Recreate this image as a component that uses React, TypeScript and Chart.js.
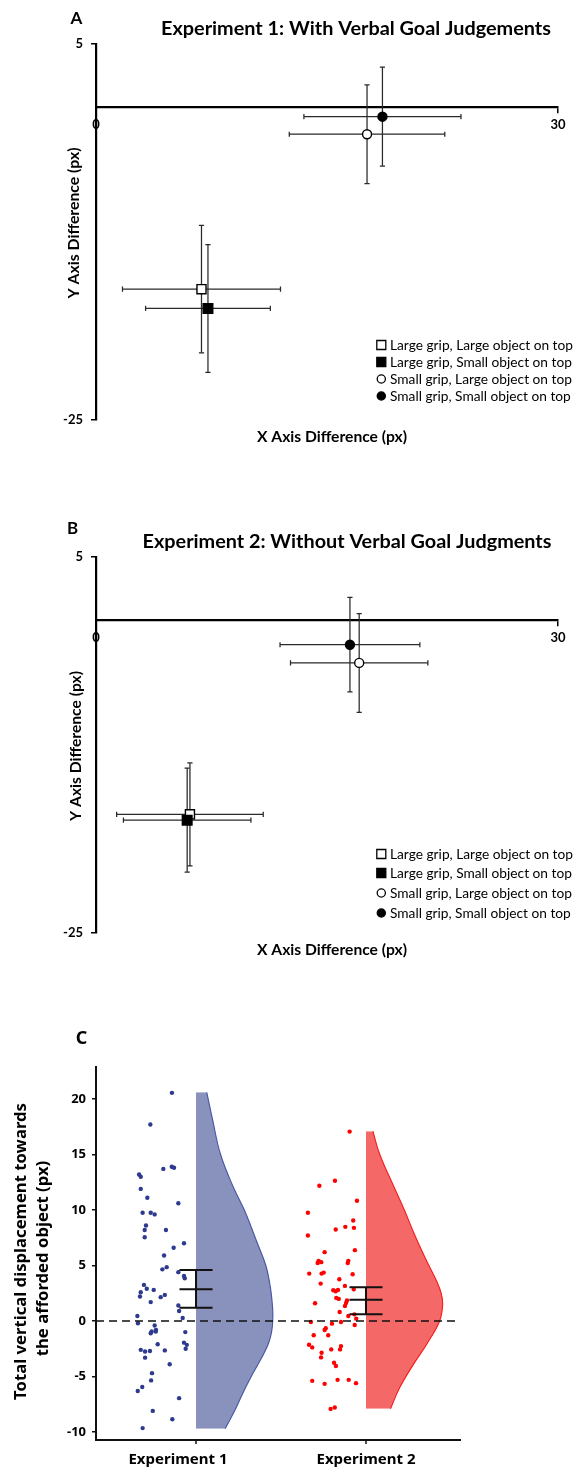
import React, { useEffect, useRef } from "react";
import { Chart, registerables } from "chart.js";
Chart.register(...registerables);

// ---------------- data: panels A and B ----------------
const CONDITIONS = [
  "Large grip, Large object on top",
  "Large grip, Small object on top",
  "Small grip, Large object on top",
  "Small grip, Small object on top",
];
const EXP1_X = [6.85, 7.27, 17.6, 18.6];
const EXP1_Y = [-14.56, -16.1, -2.2, -0.8];
const EXP1_XERR = [5.13, 4.05, 5.05, 5.1];
const EXP1_YERR = [5.08, 5.1, 3.94, 3.95];

const EXP2_X = [6.1, 5.92, 17.09, 16.49];
const EXP2_Y = [-15.53, -16.0, -3.45, -2.0];
const EXP2_XERR = [4.76, 4.14, 4.46, 4.54];
const EXP2_YERR = [4.11, 4.15, 3.94, 3.77];

const XY_X_TICKS = [0, 30];
const XY_Y_TICKS = [5, -25];
const X_TITLE = "X Axis Difference (px)";
const Y_TITLE = "Y Axis Difference (px)";
const TITLE_A = "Experiment 1: With Verbal Goal Judgements";
const TITLE_B = "Experiment 2: Without Verbal Goal Judgments";

// ---------------- data: panel C ----------------
const GROUPS = ["Experiment 1", "Experiment 2"];
const C_Y_TICKS = [20, 15, 10, 5, 0, -5, -10];
const C_Y_TITLE_1 = "Total vertical displacement towards";
const C_Y_TITLE_2 = "the afforded object (px)";

const EXP1_VALUES = [
  20.55, 17.7, 13.7, 13.9, 13.8, 13.2, 13.0, 11.9, 11.1, 10.6,
  9.75, 9.75, 9.6, 8.6, 8.2, 8.2, 7.55, 7.0, 6.6, 5.9,
  4.65, 4.85, 4.4, 4.05, 3.85, 3.25, 2.9, 2.6, 2.8, 2.2,
  2.35, 2.15, 1.7, 1.4, 0.9, 0.45, 0.27, -0.2, -0.4, -0.8,
  -0.95, -0.95, -1.1, -1.0, -2.1, -1.95, -2.15, -2.5, -2.6, -2.75,
  -2.7, -2.65, -3.3, -3.9, -4.7, -5.35, -5.95, -6.3, -6.95, -8.1,
  -8.85, -9.65,
];
const EXP1_JITTER = [
  -0.128, -0.243, -0.174, -0.129, -0.117, -0.303, -0.294, -0.294, -0.259, -0.094,
  -0.284, -0.241, -0.22, -0.266, -0.16, -0.273, -0.273, -0.064, -0.119, -0.17,
  -0.179, -0.156, -0.094, -0.064, -0.06, -0.277, -0.262, -0.294, -0.225, -0.298,
  -0.166, -0.188, -0.241, -0.094, -0.09, -0.312, -0.071, -0.309, -0.22, -0.213,
  -0.236, -0.214, -0.241, -0.057, -0.204, -0.064, -0.049, -0.055, -0.294, -0.271,
  -0.245, -0.166, -0.271, -0.14, -0.234, -0.239, -0.286, -0.31, -0.09, -0.23,
  -0.126, -0.284,
];
const EXP2_VALUES = [
  17.06, 12.18, 12.64, 10.83, 9.75, 9.05, 8.48, 8.39, 8.24, 7.7,
  6.2, 6.38, 5.42, 5.23, 5.3, 5.42, 5.23, 4.27, 4.27, 4.36,
  4.21, 3.76, 3.37, 3.16, 2.86, 2.77, 2.68, 2.8, 2.08, 1.99,
  1.84, 1.6, 1.62, 1.35, 0.81, 0.45, 0.6, 0.21, -0.09, -0.24,
  -0.09, -0.36, -0.66, -0.81, -1.29, -1.29, -2.14, -2.38, -2.26, -2.56,
  -2.56, -2.86, -3.28, -3.76, -4.06, -5.39, -5.66, -5.3, -5.3, -5.6,
  -7.92, -7.79,
];
const EXP2_JITTER = [
  -0.087, -0.248, -0.165, -0.048, -0.309, -0.068, -0.11, -0.064, -0.161, -0.309,
  -0.22, -0.059, -0.252, -0.257, -0.238, -0.094, -0.097, -0.302, -0.236, -0.225,
  -0.071, -0.142, -0.241, -0.112, -0.065, -0.174, -0.161, -0.149, -0.158, -0.145,
  -0.101, -0.271, -0.106, -0.112, -0.14, -0.094, -0.062, -0.052, -0.293, -0.181,
  -0.133, -0.06, -0.214, -0.22, -0.278, -0.201, -0.303, -0.286, -0.133, -0.138,
  -0.185, -0.236, -0.239, -0.17, -0.16, -0.286, -0.22, -0.151, -0.092, -0.053,
  -0.188, -0.166,
];
// half-violin density profiles (value, relative density)
const EXP1_DENS_Y = [20.6, 18, 15, 12, 10, 7, 5, 3, 1, 0, -1, -2, -3, -4, -5, -6.5, -8, -9.7];
const EXP1_DENS = [0.14, 0.22, 0.32, 0.49, 0.63, 0.8, 0.91, 0.97, 1.0, 1.0, 0.985, 0.945, 0.88, 0.8, 0.72, 0.61, 0.51, 0.38];
const EXP2_DENS_Y = [17.1, 15, 12, 10, 8, 6.6, 5, 3.6, 2.5, 1.5, 0, -2, -4, -6, -7.9];
const EXP2_DENS = [0.09, 0.18, 0.37, 0.5, 0.62, 0.71, 0.82, 0.92, 0.98, 1.0, 0.96, 0.8, 0.61, 0.44, 0.32];
const C_MEAN = [2.85, 1.92];
const C_CI_LOW = [1.2, 0.6];
const C_CI_HIGH = [4.6, 3.05];

// ---------------- layout / style ----------------
const PAGE_W = 577;
const FONT_AB = "Lato, 'Open Sans', sans-serif";
const FONT_C = "'Noto Sans', 'Open Sans', sans-serif";

type Marker = { shape: "rect" | "circle"; fill: string; radius: number };
const MARKERS: Marker[] = [
  { shape: "rect", fill: "#ffffff", radius: 6.4 },
  { shape: "rect", fill: "#000000", radius: 6.8 },
  { shape: "circle", fill: "#ffffff", radius: 4.5 },
  { shape: "circle", fill: "#000000", radius: 4.5 },
];

type Geo = {
  letter: [number, number];
  title: [number, number, number];
  yTitle: [number, number, number];
  xTitle: [number, number, number];
  legendRows: number[];
};
const GEO_A: Geo = {
  letter: [76.5, 19],
  title: [356, 28.5, 390],
  yTitle: [73.5, 223, 151],
  xTitle: [332, 437, 150],
  legendRows: [345, 362, 379, 396],
};
const GEO_B: Geo = {
  letter: [72.5, 16],
  title: [347, 28.7, 409],
  yTitle: [76, 233, 150],
  xTitle: [332, 437, 150],
  legendRows: [341, 360, 380, 400],
};

function fitFont(ctx: CanvasRenderingContext2D, text: string, weight: string, family: string, width: number) {
  ctx.font = `${weight} 100px ${family}`;
  const w = ctx.measureText(text).width || 1;
  const size = (100 * width) / w;
  return `${weight} ${size.toFixed(2)}px ${family}`;
}

function XYPanel(props: {
  letter: string;
  title: string;
  xs: number[];
  ys: number[];
  xe: number[];
  ye: number[];
  geo: Geo;
}) {
  const ref = useRef<HTMLCanvasElement>(null);
  useEffect(() => {
    const { letter, title, xs, ys, xe, ye, geo } = props;
    const CAP = 2.6;
    const decor = {
      id: "decor",
      beforeDatasetsDraw(chart: any) {
        const ctx: CanvasRenderingContext2D = chart.ctx;
        const sx = chart.scales.x;
        const sy = chart.scales.y;
        ctx.save();
        ctx.strokeStyle = "#2a2a2a";
        ctx.lineWidth = 1.25;
        for (let i = 0; i < xs.length; i++) {
          const px = sx.getPixelForValue(xs[i]);
          const py = sy.getPixelForValue(ys[i]);
          const xl = sx.getPixelForValue(xs[i] - xe[i]);
          const xr = sx.getPixelForValue(xs[i] + xe[i]);
          const yt = sy.getPixelForValue(ys[i] + ye[i]);
          const yb = sy.getPixelForValue(ys[i] - ye[i]);
          ctx.beginPath();
          ctx.moveTo(xl, py); ctx.lineTo(xr, py);
          ctx.moveTo(xl, py - CAP); ctx.lineTo(xl, py + CAP);
          ctx.moveTo(xr, py - CAP); ctx.lineTo(xr, py + CAP);
          ctx.moveTo(px, yt); ctx.lineTo(px, yb);
          ctx.moveTo(px - CAP, yt); ctx.lineTo(px + CAP, yt);
          ctx.moveTo(px - CAP, yb); ctx.lineTo(px + CAP, yb);
          ctx.stroke();
        }
        ctx.restore();
      },
      afterDraw(chart: any) {
        const ctx: CanvasRenderingContext2D = chart.ctx;
        ctx.save();
        ctx.fillStyle = "#000";
        ctx.textBaseline = "middle";
        ctx.textAlign = "center";
        ctx.font = `bold 17px ${FONT_AB}`;
        ctx.fillText(letter, geo.letter[0], geo.letter[1]);
        ctx.font = fitFont(ctx, title, "bold", FONT_AB, geo.title[2]);
        ctx.fillText(title, geo.title[0], geo.title[1]);
        ctx.font = fitFont(ctx, X_TITLE, "bold", FONT_AB, geo.xTitle[2]);
        ctx.fillText(X_TITLE, geo.xTitle[0], geo.xTitle[1]);
        ctx.save();
        ctx.translate(geo.yTitle[0], geo.yTitle[1]);
        ctx.rotate(-Math.PI / 2);
        ctx.font = fitFont(ctx, Y_TITLE, "bold", FONT_AB, geo.yTitle[2]);
        ctx.fillText(Y_TITLE, 0, 0);
        ctx.restore();
        // legend
        ctx.font = fitFont(ctx, CONDITIONS[0], "normal", FONT_AB, 183);
        ctx.textAlign = "left";
        CONDITIONS.forEach((label, i) => {
          const y = geo.legendRows[i];
          const m = MARKERS[i];
          const mx = 381.3;
          ctx.lineWidth = 1.3;
          ctx.strokeStyle = "#000";
          ctx.fillStyle = m.fill;
          ctx.beginPath();
          if (m.shape === "rect") ctx.rect(mx - 4.5, y - 4.5, 9, 9);
          else ctx.arc(mx, y, 4.1, 0, Math.PI * 2);
          ctx.fill();
          ctx.stroke();
          ctx.fillStyle = "#000";
          ctx.fillText(label, 390, y + 0.5);
        });
        ctx.restore();
      },
    };

    const tickFont = { family: FONT_AB, size: 13, weight: "bold" as const };
    const chart = new Chart(ref.current!, {
      type: "scatter",
      data: {
        datasets: CONDITIONS.map((label, i) => ({
          label,
          data: [{ x: xs[i], y: ys[i] }],
          pointStyle: MARKERS[i].shape,
          pointRadius: MARKERS[i].radius,
          pointBackgroundColor: MARKERS[i].fill,
          pointBorderColor: "#000",
          pointBorderWidth: 1.4,
          order: CONDITIONS.length - i,
        })),
      },
      options: {
        responsive: true,
        maintainAspectRatio: false,
        animation: false,
        events: [],
        layout: { padding: { left: 0, right: 19, top: 44, bottom: 93 } },
        plugins: { legend: { display: false }, tooltip: { enabled: false }, title: { display: false } },
        scales: {
          x: {
            type: "linear",
            min: 0,
            max: 30,
            position: { y: 0 } as any,
            afterFit: (s: any) => { s.height = 0; },
            afterBuildTicks: (s: any) => { s.ticks = XY_X_TICKS.map((v) => ({ value: v })); },
            ticks: { font: tickFont, color: "#000", padding: 5.5, maxRotation: 0, autoSkip: false },
            grid: { drawOnChartArea: false, drawTicks: true, tickLength: 5, color: "#000", lineWidth: 1.5 },
            border: { display: true, color: "#000", width: 2.2 },
          },
          y: {
            type: "linear",
            min: -25,
            max: 5,
            afterFit: (s: any) => { s.width = 96; },
            afterBuildTicks: (s: any) => { s.ticks = XY_Y_TICKS.map((v) => ({ value: v })); },
            ticks: { font: tickFont, color: "#000", padding: 8 },
            grid: { drawOnChartArea: false, drawTicks: true, tickLength: 5, color: "#000", lineWidth: 1.5 },
            border: { display: true, color: "#000", width: 2.2 },
          },
        },
      },
      plugins: [decor],
    });
    return () => chart.destroy();
  }, []);
  return (
    <div style={{ position: "relative", width: PAGE_W, height: 513 }}>
      <canvas ref={ref} />
    </div>
  );
}

function RainPanel() {
  const ref = useRef<HTMLCanvasElement>(null);
  useEffect(() => {
    const X_MIN = 0.564;
    const X_MAX = 2.5;
    const Y_MIN = -10.72;
    const Y_MAX = 22.88;
    const GROUP_POS = [1.096, 2.0];
    const HALF_W = 0.408;
    const CAP = 0.088;
    const FILL = ["#8992bd", "#f46868"];
    const STROKE = ["#4455a4", "#f51a1a"];
    const DOT = ["#2d3a8e", "#ff0000"];
    const values = [EXP1_VALUES, EXP2_VALUES];
    const jitter = [EXP1_JITTER, EXP2_JITTER];
    const densY = [EXP1_DENS_Y, EXP2_DENS_Y];
    const dens = [EXP1_DENS, EXP2_DENS];

    const ci = (g: number) => {
      const c = GROUP_POS[g];
      const lo = C_CI_LOW[g], m = C_MEAN[g], hi = C_CI_HIGH[g];
      return [
        { x: c - CAP, y: hi }, { x: c + CAP, y: hi }, { x: c, y: null },
        { x: c - CAP, y: m }, { x: c + CAP, y: m }, { x: c, y: null },
        { x: c - CAP, y: lo }, { x: c + CAP, y: lo }, { x: c, y: null },
        { x: c, y: lo }, { x: c, y: hi },
      ];
    };

    const datasets: any[] = [
      {
        type: "line",
        data: [{ x: X_MIN, y: 0 }, { x: X_MAX, y: 0 }],
        borderColor: "#111",
        borderWidth: 1.5,
        borderDash: [8, 5],
        pointRadius: 0,
        order: 0,
      },
    ];
    [0, 1].forEach((g) => {
      const c = GROUP_POS[g];
      datasets.push({
        type: "line",
        data: ci(g),
        borderColor: "#111",
        borderWidth: 2,
        pointRadius: 0,
        spanGaps: false,
        order: 1,
      });
      datasets.push({
        type: "scatter",
        data: values[g].map((v, i) => ({ x: c + jitter[g][i], y: v })),
        pointRadius: 2.2,
        pointBorderWidth: 0,
        pointBackgroundColor: DOT[g],
        order: 2,
      });
      datasets.push({
        type: "line",
        indexAxis: "y",
        data: densY[g].map((y, i) => ({ x: c + dens[g][i] * HALF_W, y })),
        borderColor: STROKE[g],
        borderWidth: 1.1,
        backgroundColor: FILL[g],
        fill: { value: c },
        tension: 0.4,
        pointRadius: 0,
        order: 3,
      });
    });

    const decor = {
      id: "decorC",
      afterDraw(chart: any) {
        const ctx: CanvasRenderingContext2D = chart.ctx;
        const sx = chart.scales.x;
        const bottom = chart.chartArea.bottom;
        ctx.save();
        ctx.strokeStyle = "#111";
        ctx.lineWidth = 1.5;
        GROUP_POS.forEach((p) => {
          const px = sx.getPixelForValue(p);
          ctx.beginPath();
          ctx.moveTo(px, bottom);
          ctx.lineTo(px, bottom + 4);
          ctx.stroke();
        });
        ctx.fillStyle = "#000";
        ctx.textAlign = "center";
        ctx.textBaseline = "middle";
        ctx.font = `bold 18px ${FONT_C}`;
        ctx.fillText("C", 81.5, 12.5);
        ctx.font = fitFont(ctx, C_Y_TITLE_1, "bold", FONT_C, 297);
        ctx.save();
        ctx.translate(21, 225.5);
        ctx.rotate(-Math.PI / 2);
        ctx.fillText(C_Y_TITLE_1, 0, 0);
        ctx.restore();
        ctx.save();
        ctx.translate(43, 232.5);
        ctx.rotate(-Math.PI / 2);
        ctx.fillText(C_Y_TITLE_2, 0, 0);
        ctx.restore();
        ctx.restore();
      },
    };

    const yFont = { family: FONT_C, size: 13, weight: "bold" as const };
    const xFont = { family: FONT_C, size: 15, weight: "bold" as const };
    const chart = new Chart(ref.current!, {
      type: "line",
      data: { datasets },
      options: {
        responsive: true,
        maintainAspectRatio: false,
        animation: false,
        events: [],
        layout: { padding: { left: 0, right: 117, top: 41, bottom: 30 } },
        plugins: { legend: { display: false }, tooltip: { enabled: false } },
        scales: {
          x: {
            type: "linear",
            min: X_MIN,
            max: X_MAX,
            position: { y: Y_MIN } as any,
            afterFit: (s: any) => { s.height = 0; },
            afterBuildTicks: (s: any) => { s.ticks = GROUPS.map((_, i) => ({ value: i + 1 })); },
            ticks: {
              font: xFont,
              color: "#000",
              padding: 11,
              maxRotation: 0,
              autoSkip: false,
              callback: (v: any) => GROUPS[Math.round(Number(v)) - 1] ?? "",
            },
            grid: { drawOnChartArea: false, drawTicks: false, color: "#111" },
            border: { display: true, color: "#111", width: 2 },
          },
          y: {
            type: "linear",
            min: Y_MIN,
            max: Y_MAX,
            afterFit: (s: any) => { s.width = 96; },
            afterBuildTicks: (s: any) => { s.ticks = C_Y_TICKS.map((v) => ({ value: v })); },
            ticks: { font: yFont, color: "#000", padding: 6 },
            grid: { drawOnChartArea: false, drawTicks: true, tickLength: 4, color: "#111", lineWidth: 1.5 },
            border: { display: true, color: "#111", width: 2 },
          },
        },
      },
      plugins: [decor],
    });
    return () => chart.destroy();
  }, []);
  return (
    <div style={{ position: "relative", width: PAGE_W, height: 444 }}>
      <canvas ref={ref} />
    </div>
  );
}

export default function App() {
  useEffect(() => {
    document.body.style.margin = "0";
  }, []);
  return (
    <div style={{ position: "absolute", left: 0, top: 0, width: PAGE_W, height: 1470, background: "#fff" }}>
      <XYPanel letter="A" title={TITLE_A} xs={EXP1_X} ys={EXP1_Y} xe={EXP1_XERR} ye={EXP1_YERR} geo={GEO_A} />
      <XYPanel letter="B" title={TITLE_B} xs={EXP2_X} ys={EXP2_Y} xe={EXP2_XERR} ye={EXP2_YERR} geo={GEO_B} />
      <RainPanel />
    </div>
  );
}
